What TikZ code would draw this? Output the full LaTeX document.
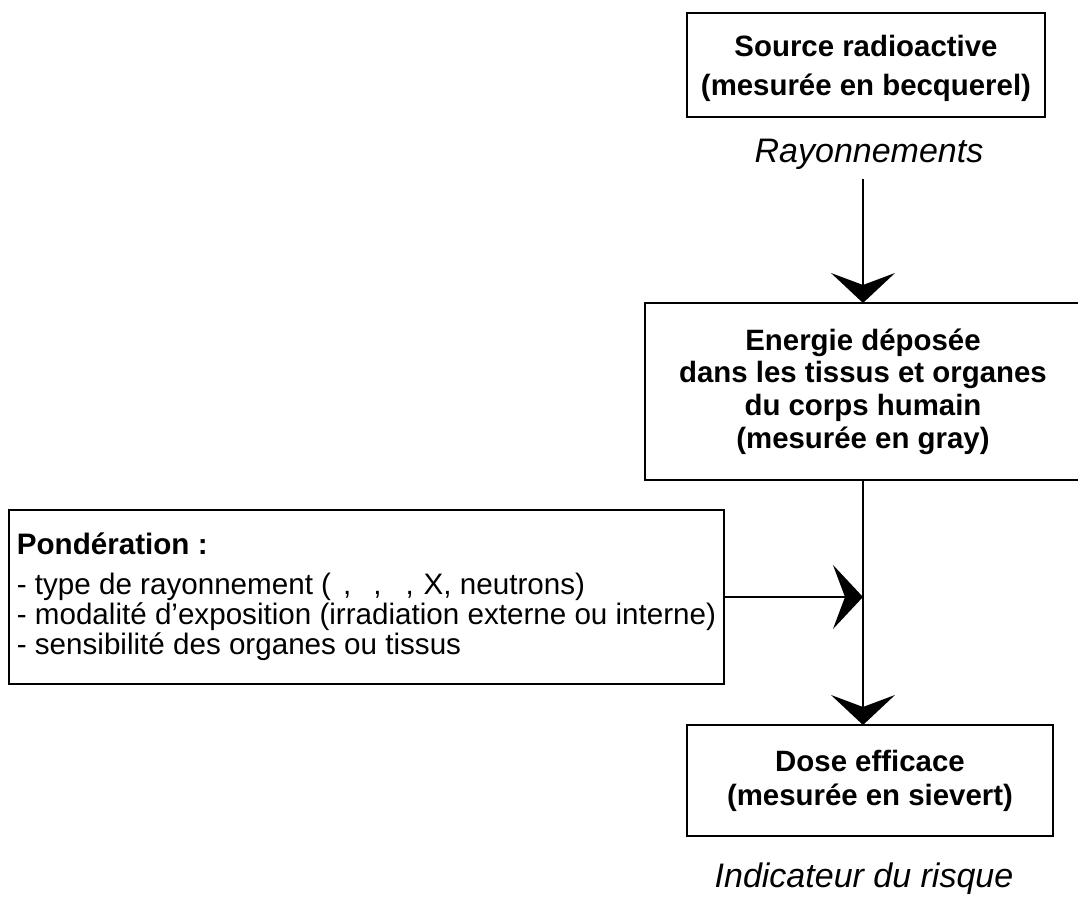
\documentclass[tikz,border=0pt]{standalone}
\usepackage{fontspec}
\setmainfont{Liberation Sans}
\usepackage{tikz}
\usetikzlibrary{positioning,arrows.meta,calc}

\begin{document}
\begin{tikzpicture}[
            x=0.5pt, y=-0.5pt,
            outer sep=0pt,
            % Style boîte: texte gras centré
            box/.style={
                draw=black,
                line width=1.25pt,
                align=center,
                inner sep=0pt,
                font=\bfseries\fontsize{14.7}{17}\selectfont
            },
            % Style légende en italique
            legend/.style={
                font=\itshape\fontsize{17}{20}\selectfont,
                inner sep=5pt
            },
            % Style flèche
            flow/.style={
                -{Stealth[length=15pt, width=32pt, inset=6pt]},
                line width=1pt
            }
        ]
            \useasboundingbox (0,0) rectangle (1078,897);

            % --- SOURCE ---
            \node[box, minimum width=179pt, minimum height=52pt,
                  font=\bfseries\fontsize{14.7}{19.5}\selectfont] (source) at (866,65) {};
            \node[align=center, inner sep=0pt, font=\bfseries\fontsize{14.7}{19.5}\selectfont]
                (source_txt) at (866,68) {Source radioactive\\(mesurée en becquerel)};
            \node[legend] (rayon) at (869,154) {Rayonnements};

            % --- ENERGIE ---
            % La boîte déborde à droite de l'image
            \node[box, minimum width=218pt, minimum height=88.5pt,
                  font=\bfseries\fontsize{14.7}{16.3}\selectfont] (energie) at (863,391.5)
                {Energie déposée\\dans les tissus et organes\\du corps humain\\(mesurée en gray)};

            % --- PONDERATION ---
            \node[box, font=\fontsize{14.8}{15}\selectfont, align=left,
                  inner xsep=3.5pt, minimum width=357.5pt, minimum height=87pt] (ponder) at (366.5,597)
                {\textbf{Pondération :}\\[5pt]
                 - type de rayonnement (\hspace{6pt},\hspace{11pt},\hspace{12pt},\hspace{5pt}X, neutrons)\\
                 - modalité d’exposition (irradiation externe ou interne)\\
                 - sensibilité des organes ou tissus};

            % --- DOSE ---
            \node[box, minimum width=183pt, minimum height=55.5pt] (dose) at (870,780.5)
                {Dose efficace\\(mesurée en sievert)};
            \node[legend] (risque) at (864,879) {Indicateur du risque};

            % --- FLECHES ---
            \draw[flow] (rayon.south -| energie.north) -- (energie.north);
            \draw[flow] (energie.south) -- (energie.south |- dose.north);
            \draw[flow] (ponder.east) -- (ponder.east -| energie.south);

        \end{tikzpicture}
\end{document}
